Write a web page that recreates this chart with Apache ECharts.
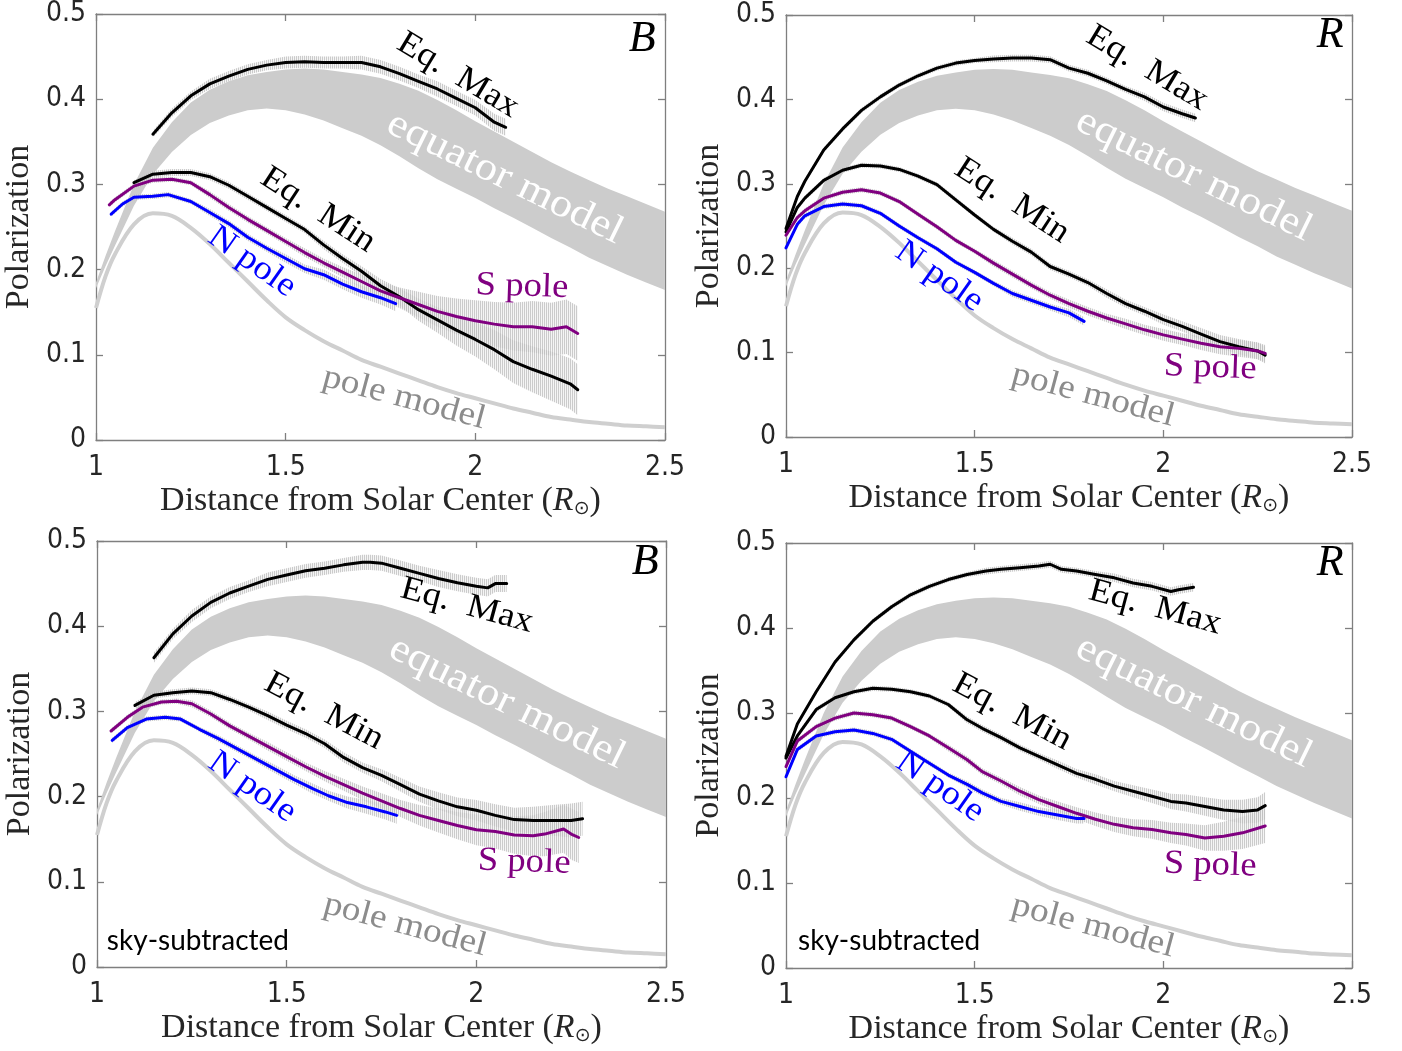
<!DOCTYPE html>
<html><head><meta charset="utf-8">
<script src="https://cdn.jsdelivr.net/npm/echarts@6/dist/echarts.min.js"></script>
<style>html,body{margin:0;padding:0;background:#fff}#c{width:1402px;height:1051px}</style>
</head><body><div id="c"></div>
<script>
// ---------------- DATA ----------------
const xTickLabels = ['1', '1.5', '2', '2.5'];
const yTickLabels = ['0', '0.1', '0.2', '0.3', '0.4', '0.5'];
const bandNames = ['B', 'R', 'B', 'R'];

// shared model curves (same in every panel)
const modelX   = [1.00,1.025,1.05,1.10,1.15,1.20,1.25,1.30,1.35,1.40,1.45,1.50,1.55,1.60,1.65,1.70,1.75,1.80,1.85,1.90,1.95,2.00,2.05,2.10,2.15,2.20,2.25,2.30,2.35,2.40,2.45,2.50];
const poleModel= [0.155,0.192,0.218,0.253,0.266,0.263,0.249,0.230,0.208,0.186,0.164,0.144,0.129,0.116,0.105,0.094,0.086,0.078,0.070,0.062,0.055,0.049,0.043,0.037,0.032,0.027,0.024,0.021,0.019,0.017,0.016,0.015];
const eqModelHi= [0.185,0.216,0.245,0.300,0.343,0.373,0.396,0.411,0.421,0.428,0.432,0.435,0.436,0.435,0.432,0.429,0.425,0.418,0.410,0.399,0.387,0.374,0.362,0.350,0.338,0.326,0.315,0.305,0.295,0.286,0.277,0.268];
const eqModelLo= [0.178,0.204,0.228,0.275,0.312,0.338,0.358,0.372,0.381,0.387,0.389,0.387,0.382,0.375,0.366,0.357,0.346,0.333,0.319,0.306,0.295,0.284,0.272,0.261,0.249,0.237,0.226,0.214,0.204,0.194,0.185,0.176];

// observed series: [distance, polarization, error half-width]
// Panel 1: B band
const bEqMax = [[1.15,0.359,0.004],[1.20,0.384,0.005],[1.25,0.404,0.005],[1.30,0.418,0.006],[1.35,0.427,0.006],[1.40,0.435,0.006],[1.45,0.440,0.006],[1.50,0.443,0.007],[1.55,0.444,0.007],[1.60,0.443,0.007],[1.65,0.443,0.007],[1.70,0.443,0.008],[1.75,0.438,0.008],[1.80,0.430,0.008],[1.85,0.421,0.008],[1.90,0.412,0.009],[1.95,0.401,0.009],[2.00,0.390,0.009],[2.05,0.373,0.010],[2.08,0.367,0.010]];
const bEqMin = [[1.10,0.302,0.003],[1.15,0.312,0.004],[1.20,0.314,0.004],[1.25,0.314,0.004],[1.30,0.309,0.004],[1.35,0.299,0.004],[1.40,0.286,0.004],[1.45,0.273,0.004],[1.50,0.260,0.004],[1.55,0.247,0.004],[1.60,0.229,0.005],[1.65,0.213,0.005],[1.70,0.198,0.006],[1.75,0.181,0.008],[1.80,0.168,0.010],[1.85,0.153,0.013],[1.90,0.141,0.015],[1.95,0.129,0.018],[2.00,0.118,0.020],[2.05,0.106,0.023],[2.10,0.092,0.025],[2.15,0.083,0.027],[2.20,0.075,0.029],[2.25,0.066,0.030],[2.27,0.059,0.030]];
const bSPole = [[1.035,0.276,0.003],[1.05,0.282,0.003],[1.10,0.298,0.003],[1.15,0.305,0.003],[1.20,0.306,0.003],[1.25,0.302,0.003],[1.30,0.288,0.004],[1.35,0.273,0.004],[1.40,0.259,0.004],[1.45,0.246,0.004],[1.50,0.233,0.004],[1.55,0.220,0.005],[1.60,0.208,0.005],[1.65,0.197,0.006],[1.70,0.186,0.008],[1.75,0.175,0.010],[1.80,0.167,0.012],[1.85,0.159,0.015],[1.90,0.151,0.018],[1.95,0.145,0.021],[2.00,0.140,0.024],[2.05,0.136,0.026],[2.10,0.133,0.028],[2.15,0.133,0.030],[2.20,0.130,0.031],[2.24,0.133,0.032],[2.27,0.125,0.032]];
const bNPole = [[1.04,0.265,0.003],[1.07,0.277,0.003],[1.10,0.285,0.003],[1.15,0.286,0.003],[1.19,0.288,0.003],[1.25,0.280,0.003],[1.30,0.267,0.004],[1.35,0.254,0.004],[1.40,0.238,0.004],[1.45,0.225,0.004],[1.50,0.213,0.005],[1.55,0.201,0.005],[1.60,0.194,0.006],[1.65,0.183,0.006],[1.70,0.174,0.007],[1.75,0.167,0.008],[1.79,0.160,0.009]];

// Panel 2: R band
const rEqMax = [[1.00,0.247,0.003],[1.03,0.285,0.003],[1.05,0.303,0.003],[1.10,0.340,0.003],[1.15,0.365,0.003],[1.20,0.387,0.003],[1.25,0.403,0.003],[1.30,0.417,0.003],[1.35,0.428,0.003],[1.40,0.437,0.003],[1.45,0.443,0.003],[1.50,0.446,0.003],[1.55,0.448,0.004],[1.60,0.449,0.004],[1.65,0.449,0.004],[1.70,0.447,0.004],[1.75,0.437,0.004],[1.80,0.431,0.004],[1.85,0.422,0.004],[1.90,0.412,0.004],[1.95,0.403,0.005],[2.00,0.391,0.005],[2.05,0.383,0.005],[2.085,0.378,0.005]];
const rEqMin = [[1.00,0.243,0.003],[1.03,0.272,0.003],[1.05,0.283,0.003],[1.10,0.304,0.003],[1.15,0.316,0.003],[1.20,0.322,0.003],[1.25,0.321,0.003],[1.30,0.317,0.003],[1.35,0.309,0.003],[1.40,0.299,0.003],[1.45,0.281,0.003],[1.50,0.263,0.003],[1.55,0.246,0.003],[1.60,0.232,0.004],[1.65,0.219,0.004],[1.70,0.202,0.004],[1.75,0.193,0.004],[1.80,0.183,0.004],[1.85,0.170,0.005],[1.90,0.158,0.005],[1.95,0.149,0.005],[2.00,0.139,0.006],[2.05,0.131,0.006],[2.10,0.122,0.007],[2.15,0.113,0.008],[2.20,0.107,0.009],[2.25,0.102,0.010],[2.27,0.097,0.010]];
const rSPole = [[1.00,0.239,0.003],[1.03,0.260,0.003],[1.05,0.268,0.003],[1.10,0.283,0.003],[1.15,0.290,0.003],[1.20,0.293,0.003],[1.25,0.289,0.003],[1.30,0.279,0.003],[1.35,0.264,0.003],[1.40,0.249,0.003],[1.45,0.233,0.003],[1.50,0.220,0.003],[1.55,0.206,0.004],[1.60,0.193,0.004],[1.65,0.180,0.004],[1.70,0.168,0.004],[1.75,0.158,0.005],[1.80,0.149,0.005],[1.85,0.141,0.005],[1.90,0.134,0.006],[1.95,0.127,0.006],[2.00,0.121,0.007],[2.05,0.116,0.007],[2.10,0.111,0.008],[2.15,0.107,0.009],[2.20,0.105,0.010],[2.25,0.102,0.010],[2.27,0.099,0.010]];
const rNPole = [[1.00,0.224,0.003],[1.03,0.252,0.003],[1.05,0.262,0.003],[1.10,0.273,0.003],[1.15,0.276,0.003],[1.20,0.274,0.003],[1.25,0.265,0.003],[1.30,0.250,0.003],[1.35,0.236,0.003],[1.40,0.223,0.003],[1.45,0.207,0.003],[1.50,0.195,0.003],[1.55,0.182,0.003],[1.60,0.170,0.004],[1.65,0.162,0.004],[1.70,0.154,0.004],[1.75,0.147,0.005],[1.79,0.137,0.005]];

// Panel 3: B band, sky-subtracted
const bsEqMax = [[1.15,0.363,0.006],[1.20,0.391,0.006],[1.25,0.412,0.007],[1.30,0.428,0.007],[1.35,0.439,0.007],[1.40,0.447,0.007],[1.45,0.455,0.008],[1.50,0.460,0.008],[1.55,0.465,0.008],[1.60,0.468,0.008],[1.65,0.472,0.008],[1.70,0.475,0.009],[1.72,0.475,0.009],[1.75,0.474,0.009],[1.80,0.468,0.009],[1.85,0.462,0.009],[1.90,0.456,0.010],[1.95,0.451,0.010],[2.00,0.447,0.010],[2.03,0.445,0.010],[2.05,0.450,0.010],[2.08,0.450,0.010]];
const bsEqMin = [[1.10,0.307,0.004],[1.15,0.319,0.004],[1.20,0.322,0.004],[1.25,0.324,0.004],[1.30,0.322,0.004],[1.35,0.314,0.004],[1.40,0.305,0.004],[1.45,0.295,0.005],[1.50,0.284,0.005],[1.55,0.274,0.005],[1.60,0.262,0.005],[1.65,0.246,0.006],[1.70,0.234,0.006],[1.75,0.225,0.007],[1.80,0.214,0.008],[1.85,0.203,0.009],[1.90,0.195,0.010],[1.95,0.188,0.011],[2.00,0.184,0.012],[2.05,0.178,0.013],[2.10,0.173,0.014],[2.15,0.172,0.016],[2.20,0.172,0.018],[2.25,0.172,0.020],[2.28,0.174,0.020]];
const bsSPole = [[1.037,0.277,0.003],[1.08,0.293,0.003],[1.12,0.305,0.003],[1.17,0.311,0.003],[1.21,0.312,0.003],[1.25,0.309,0.004],[1.30,0.297,0.004],[1.35,0.283,0.004],[1.40,0.271,0.004],[1.45,0.259,0.005],[1.50,0.247,0.005],[1.55,0.235,0.005],[1.60,0.224,0.006],[1.65,0.214,0.007],[1.70,0.204,0.008],[1.75,0.195,0.009],[1.80,0.186,0.010],[1.85,0.178,0.012],[1.90,0.172,0.014],[1.95,0.166,0.016],[2.00,0.161,0.018],[2.05,0.159,0.020],[2.10,0.155,0.022],[2.15,0.154,0.024],[2.18,0.156,0.026],[2.23,0.162,0.028],[2.25,0.156,0.030],[2.27,0.152,0.030]];
const bsNPole = [[1.04,0.266,0.003],[1.08,0.281,0.003],[1.13,0.291,0.003],[1.18,0.293,0.003],[1.22,0.291,0.003],[1.27,0.279,0.003],[1.32,0.268,0.004],[1.37,0.256,0.004],[1.42,0.244,0.004],[1.47,0.232,0.005],[1.52,0.220,0.005],[1.57,0.209,0.006],[1.61,0.201,0.006],[1.66,0.193,0.007],[1.71,0.188,0.008],[1.76,0.182,0.009],[1.79,0.178,0.010]];

// Panel 4: R band, sky-subtracted
const rsEqMax = [[1.00,0.249,0.003],[1.03,0.287,0.003],[1.08,0.325,0.003],[1.13,0.360,0.003],[1.18,0.386,0.003],[1.23,0.408,0.003],[1.28,0.425,0.003],[1.33,0.439,0.003],[1.38,0.449,0.003],[1.43,0.457,0.003],[1.48,0.463,0.003],[1.53,0.467,0.004],[1.57,0.469,0.004],[1.62,0.471,0.004],[1.67,0.473,0.004],[1.70,0.475,0.004],[1.73,0.469,0.004],[1.77,0.467,0.004],[1.82,0.463,0.004],[1.87,0.459,0.005],[1.92,0.453,0.005],[1.97,0.449,0.005],[2.02,0.443,0.005],[2.04,0.445,0.005],[2.08,0.448,0.005]];
const rsEqMin = [[1.00,0.247,0.003],[1.03,0.273,0.003],[1.08,0.304,0.003],[1.13,0.318,0.003],[1.18,0.325,0.003],[1.23,0.329,0.003],[1.28,0.328,0.003],[1.33,0.325,0.003],[1.38,0.320,0.003],[1.43,0.310,0.003],[1.48,0.292,0.004],[1.52,0.282,0.004],[1.57,0.271,0.004],[1.62,0.259,0.004],[1.67,0.249,0.004],[1.72,0.239,0.005],[1.77,0.229,0.005],[1.82,0.222,0.006],[1.87,0.214,0.006],[1.92,0.208,0.007],[1.97,0.202,0.008],[2.02,0.196,0.009],[2.06,0.194,0.010],[2.11,0.190,0.011],[2.16,0.186,0.012],[2.21,0.184,0.014],[2.25,0.186,0.015],[2.27,0.191,0.016]];
const rsSPole = [[1.00,0.237,0.003],[1.03,0.267,0.003],[1.08,0.284,0.003],[1.13,0.294,0.003],[1.18,0.300,0.003],[1.23,0.298,0.003],[1.28,0.294,0.003],[1.33,0.284,0.003],[1.38,0.273,0.003],[1.43,0.259,0.004],[1.48,0.245,0.004],[1.52,0.231,0.004],[1.57,0.220,0.004],[1.62,0.208,0.005],[1.67,0.198,0.005],[1.72,0.190,0.006],[1.77,0.182,0.007],[1.82,0.175,0.008],[1.87,0.169,0.009],[1.92,0.165,0.010],[1.97,0.163,0.011],[2.02,0.159,0.012],[2.06,0.157,0.013],[2.11,0.153,0.015],[2.16,0.155,0.017],[2.21,0.159,0.019],[2.27,0.167,0.020]];
const rsNPole = [[1.00,0.225,0.003],[1.03,0.257,0.003],[1.08,0.273,0.003],[1.13,0.278,0.003],[1.18,0.280,0.003],[1.23,0.276,0.003],[1.28,0.269,0.003],[1.33,0.255,0.003],[1.38,0.241,0.003],[1.43,0.227,0.003],[1.48,0.216,0.004],[1.52,0.206,0.004],[1.57,0.196,0.004],[1.62,0.190,0.005],[1.67,0.184,0.005],[1.72,0.180,0.006],[1.77,0.176,0.006],[1.79,0.176,0.006]];

// ---------------- LAYOUT / STYLE ----------------
const panelData = [
  {eqMax:bEqMax,  eqMin:bEqMin,  sPole:bSPole,  nPole:bNPole},
  {eqMax:rEqMax,  eqMin:rEqMin,  sPole:rSPole,  nPole:rNPole},
  {eqMax:bsEqMax, eqMin:bsEqMin, sPole:bsSPole, nPole:bsNPole},
  {eqMax:rsEqMax, eqMin:rsEqMin, sPole:rsSPole, nPole:rsNPole}
];
const grids = [
  {left:96,  top:14,  width:569, height:426},
  {left:786, top:15,  width:566, height:422},
  {left:97,  top:541, width:569, height:426},
  {left:786, top:543, width:566, height:425}
];
// annotation anchors in data coords, rotation in degrees (clockwise)
const annot = [
  {eqMax:[1.954,0.428,31], eqModel:[2.078,0.3075,26], eqMin:[1.585,0.270,33], nPole:[1.411,0.209,35], sPole:[2.123,0.180,2], poleModel:[1.812,0.049,15], band:[2.44,0.470]},
  {eqMax:[1.957,0.437,31], eqModel:[2.081,0.310,26],  eqMin:[1.599,0.280,33], nPole:[1.406,0.190,35], sPole:[2.124,0.082,2], poleModel:[1.814,0.049,15], band:[2.442,0.476]},
  {eqMax:[1.975,0.424,15], eqModel:[2.081,0.310,26],  eqMin:[1.598,0.300,28], nPole:[1.409,0.211,35], sPole:[2.126,0.123,2], poleModel:[1.812,0.049,15], band:[2.445,0.475], sky:[1.026,0.031]},
  {eqMax:[1.978,0.424,15], eqModel:[2.081,0.313,26],  eqMin:[1.599,0.301,28], nPole:[1.408,0.213,35], sPole:[2.124,0.121,2], poleModel:[1.814,0.049,15], band:[2.442,0.476], sky:[1.032,0.032]}
];

const AXC = '#7f7f7f', TXT = '#262626';
const SERIF = '"Liberation Serif", "Times New Roman", serif';

// pick a condensed sans for the tick labels if one is installed
function hasFont(name) {
  const c = document.createElement('canvas').getContext('2d');
  const s = '0.123456789 Polarization';
  c.font = '30px monospace'; const w0 = c.measureText(s).width;
  c.font = '30px "' + name + '", monospace'; const w1 = c.measureText(s).width;
  return Math.abs(w0 - w1) > 0.5;
}
let SANS = '"Liberation Sans", Arial, sans-serif', tickSize = 26;
if (hasFont('Liberation Sans Narrow')) { SANS = '"Liberation Sans Narrow", "Liberation Sans", sans-serif'; tickSize = 31; }
else if (hasFont('DejaVu Sans Condensed')) { SANS = '"DejaVu Sans Condensed", "Liberation Sans", sans-serif'; tickSize = 28; }

// striped pattern that imitates dense vertical error bars
const pc = document.createElement('canvas');
pc.width = 2; pc.height = 4;
const pctx = pc.getContext('2d');
pctx.fillStyle = 'rgba(190,190,190,0.8)'; pctx.fillRect(0,0,1,4);
pctx.fillStyle = 'rgba(225,225,225,0.35)'; pctx.fillRect(1,0,1,4);
const errFill = {image: pc, repeat: 'repeat'};

function polyBand(xs, lo, hi, fill) {
  return function (params, api) {
    if (params.dataIndex !== 0) return null;
    const top = xs.map((x, i) => api.coord([x, hi[i]]));
    const bot = xs.map((x, i) => api.coord([x, lo[i]])).reverse();
    return {type:'polygon', shape:{points: top.concat(bot)}, style:{fill: fill}};
  };
}
function errBand(arr) {
  return polyBand(arr.map(d => d[0]), arr.map(d => d[1] - d[2]), arr.map(d => d[1] + d[2]), errFill);
}

const option = {animation:false, backgroundColor:'#fff', grid:[], xAxis:[], yAxis:[], series:[]};
grids.forEach((g, i) => {
  option.grid.push(Object.assign({containLabel:false}, g));
  const common = {type:'value', gridIndex:i, splitLine:{show:false},
    axisLine:{show:true, onZero:false, lineStyle:{color:AXC, width:1.3}},
    axisTick:{show:true, inside:true, length:7, lineStyle:{color:AXC, width:1.3}}};
  option.xAxis.push(Object.assign({}, common, {min:1, max:2.5, interval:0.5, position:'bottom',
    axisLabel:{fontSize:tickSize, color:TXT, fontFamily:SANS, margin:14,
      formatter: v => xTickLabels[Math.round((v - 1) / 0.5)]},
    name:'{t|Distance from Solar Center (}{i|R}{s|\u2299}{t|)}', nameLocation:'middle', nameGap:44,
    nameTextStyle:{rich:{
      t:{fontSize:34, fontFamily:SERIF, color:TXT},
      i:{fontSize:34, fontFamily:SERIF, fontStyle:'italic', color:TXT},
      s:{fontSize:19, fontFamily:'"DejaVu Sans"', color:TXT, padding:[16,0,0,0]}}}}));
  option.xAxis.push(Object.assign({}, common, {min:1, max:2.5, interval:0.5, position:'top', axisLabel:{show:false}}));
  option.yAxis.push(Object.assign({}, common, {min:0, max:0.5, interval:0.1, position:'left',
    axisLabel:{fontSize:tickSize, color:TXT, fontFamily:SANS, margin:10,
      formatter: v => yTickLabels[Math.round(v / 0.1)]},
    name:'Polarization', nameLocation:'middle', nameGap:60, nameRotate:90,
    nameTextStyle:{fontSize:34, fontFamily:SERIF, color:TXT}}));
  option.yAxis.push(Object.assign({}, common, {min:0, max:0.5, interval:0.1, position:'right', axisLabel:{show:false}}));

  const xi = 2 * i, yi = 2 * i;
  const P = panelData[i];
  option.series.push({type:'custom', xAxisIndex:xi, yAxisIndex:yi, silent:true, z:1,
    data: modelX.map((x, k) => [x, eqModelLo[k], eqModelHi[k]]), encode:{x:0, y:1},
    renderItem: polyBand(modelX, eqModelLo, eqModelHi, '#cccccc')});
  option.series.push({type:'line', xAxisIndex:xi, yAxisIndex:yi, silent:true, z:2, smooth:0.35,
    showSymbol:false, data: modelX.map((x, k) => [x, poleModel[k]]),
    lineStyle:{color:'#cfcfcf', width:4}});
  [P.eqMax, P.eqMin, P.sPole, P.nPole].forEach(arr => {
    option.series.push({type:'custom', xAxisIndex:xi, yAxisIndex:yi, silent:true, z:3,
      data: arr, encode:{x:0, y:1}, renderItem: errBand(arr)});
  });
  [[P.eqMax,'#000000'],[P.eqMin,'#000000'],[P.sPole,'#800080'],[P.nPole,'#0000ff']].forEach(([arr, c]) => {
    option.series.push({type:'line', xAxisIndex:xi, yAxisIndex:yi, silent:true, z:4,
      showSymbol:false, data: arr.map(d => [d[0], d[1]]),
      lineStyle:{color:c, width:3, join:'round', cap:'round'}});
  });
});

const chart = echarts.init(document.getElementById('c'));
chart.setOption(option);

const graphics = [];
function addText(i, pos, text, opts) {
  const p = chart.convertToPixel({gridIndex:i}, [pos[0], pos[1]]);
  graphics.push({type:'text', x:p[0], y:p[1], rotation: -(pos[2] || 0) * Math.PI / 180,
    scaleX: opts.scaleX || 1, z:100, silent:true,
    style:Object.assign({text:text, fontFamily:SERIF, fontSize:34, fill:'#000',
      align: opts.align || 'center', verticalAlign:'middle',
      textAlign: opts.align || 'center', textVerticalAlign:'middle'}, opts.style || {})});
}
annot.forEach((a, i) => {
  addText(i, a.eqMax, 'Eq.  Max', {scaleX:1.08});
  addText(i, a.eqModel, 'equator model', {scaleX:1.12, style:{fill:'#ffffff', fontSize:40}});
  addText(i, a.eqMin, 'Eq.  Min', {scaleX:1.08});
  addText(i, a.nPole, 'N pole', {scaleX:1.08, style:{fill:'#0000ff'}});
  addText(i, a.sPole, 'S pole', {scaleX:1.08, style:{fill:'#800080'}});
  addText(i, a.poleModel, 'pole model', {scaleX:1.1, style:{fill:'#8c8c8c', fontSize:34}});
  addText(i, a.band, bandNames[i], {style:{fontStyle:'italic', fontSize:44, fill:'#000'}});
  if (a.sky) addText(i, a.sky, 'sky-subtracted', {align:'left', style:{fontFamily:'Lato, "Open Sans", sans-serif', fontSize:28, fill:'#000'}});
});
chart.setOption({graphic: graphics});
</script>
</body></html>
